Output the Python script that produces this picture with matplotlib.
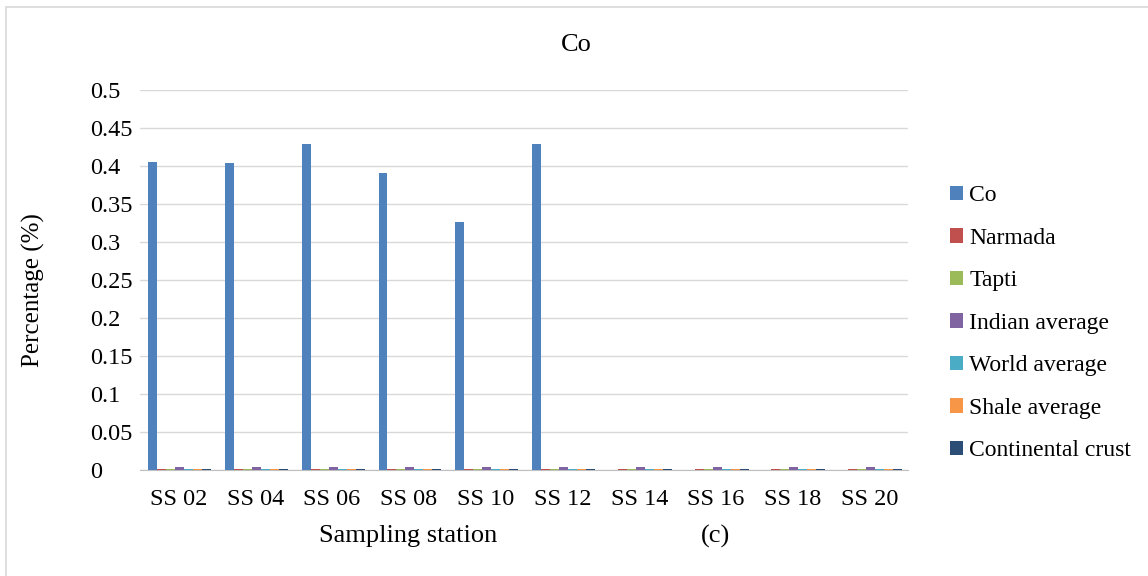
import numpy as np
import matplotlib
matplotlib.use('Agg')
import matplotlib.pyplot as plt
from matplotlib.patches import Rectangle

plt.rcParams['font.family'] = ['Liberation Serif', 'DejaVu Serif']

stations = ['SS 02', 'SS 04', 'SS 06', 'SS 08', 'SS 10', 'SS 12', 'SS 14', 'SS 16', 'SS 18', 'SS 20']
co = [0.405, 0.4035, 0.429, 0.391, 0.326, 0.4285, 0, 0, 0, 0]
narmada = [0.001] * 10
tapti = [0.001] * 10
indian_avg = [0.0035] * 10
world_avg = [0.0012] * 10
shale_avg = [0.0012] * 10
cont_crust = [0.0012] * 10

series = [co, narmada, tapti, indian_avg, world_avg, shale_avg, cont_crust]
names = ['Co', 'Narmada', 'Tapti', 'Indian average', 'World average', 'Shale average', 'Continental crust']
colors = ['#4F81BD', '#C0504D', '#9BBB59', '#8064A2', '#4BACC6', '#F79646', '#2C4D75']

fig = plt.figure(figsize=(11.48, 5.76), dpi=100)
ax = fig.add_axes([140 / 1148, 1 - 470 / 576, 768 / 1148, 380 / 576])

x = np.arange(len(stations))
w = 0.117
for i, (vals, name, c) in enumerate(zip(series, names, colors)):
    ax.bar(x + (i - 3) * w + 0.015, vals, width=w, color=c, label=name, zorder=3)

ax.set_xlim(-0.5, len(stations) - 0.5)
ax.set_ylim(0, 0.5)
ax.set_yticks(np.arange(0, 0.51, 0.05))
ax.set_yticklabels(['0', '0.05', '0.1', '0.15', '0.2', '0.25', '0.3', '0.35', '0.4', '0.45', '0.5'],
                   ha='left')
ax.set_xticks(x)
ax.set_xticklabels(stations)
ax.tick_params(length=0, labelsize=17.5)
ax.tick_params(axis='x', pad=14)
ax.tick_params(axis='y', pad=36)
ax.grid(axis='y', color='#d9d9d9', linewidth=1, zorder=0)
for s in ['top', 'right', 'left']:
    ax.spines[s].set_visible(False)
ax.spines['bottom'].set_color('#bfbfbf')

fig.text(33 / 1148, 1 - 290 / 576, 'Percentage (%)', fontsize=18, rotation=90, ha='center', va='center')
fig.text(408 / 1148, 1 - 536 / 576, 'Sampling station', fontsize=19, ha='center', va='center')
fig.text(715 / 1148, 1 - 536 / 576, '(c)', fontsize=19, ha='center', va='center')
fig.text(576 / 1148, 1 - 45 / 576, 'Co', fontsize=19, ha='center', va='center')

fig.legend(loc='upper left', bbox_to_anchor=(941 / 1148, 1 - 176 / 576), frameon=False,
           fontsize=17, handlelength=0.55, handleheight=0.55, handletextpad=0.25,
           labelspacing=0.91, borderaxespad=0)

fig.patches.append(Rectangle((6 / 1148, -0.1), 1.2, 1 - 7 / 576 + 0.1, transform=fig.transFigure,
                             fill=False, edgecolor='#d9d9d9', linewidth=1.2))

fig.savefig('out.png', dpi=100)
